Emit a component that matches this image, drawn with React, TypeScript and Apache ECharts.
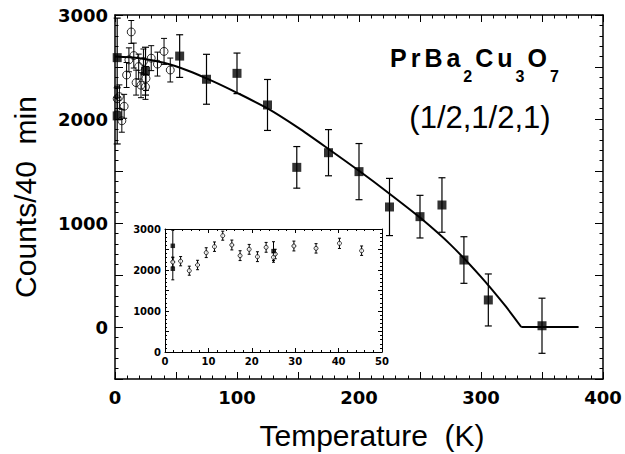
import React, { useEffect, useRef } from 'react';
import * as echarts from 'echarts';

// Filled squares (main data set)
const squareT = [1.8, 1.8, 25, 53, 75, 100, 125, 149, 175, 200, 225, 250, 268, 286, 306, 350];
const squareY = [2590, 2030, 2460, 2605, 2382, 2439, 2135, 1535, 1676, 1494, 1154, 1061, 1173, 644, 260, 12];
const squareErr = [380, 270, 230, 205, 240, 195, 245, 200, 222, 270, 275, 205, 262, 224, 250, 265];

// Open circles (low-temperature data set)
const circleT = [1.8, 3.6, 5.6, 7.5, 9.5, 11.4, 13.3, 15.4, 17.3, 19.4, 21.3, 23.3, 25.0, 25.4, 29.7, 34.8, 40.2, 45.3];
const circleY = [2195, 2215, 1983, 2122, 2423, 2569, 2837, 2610, 2350, 2504, 2325, 2553, 2309, 2390, 2585, 2528, 2650, 2471];
const circleErr = [120, 113, 110, 115, 120, 115, 110, 120, 120, 120, 120, 120, 120, 115, 120, 115, 125, 115];

// Fit curve (ordered part, then the flat part above the transition)
const fitT = [0, 20, 40, 60, 80, 100, 125, 150, 175, 200, 225, 250, 275, 300, 320, 333];
const fitY = [2600, 2584, 2540, 2464, 2364, 2252, 2102, 1917, 1712, 1502, 1282, 1052, 792, 482, 202, 0];
const flatT = [333, 380];
const flatY = [0, 0];

const mainXTicks = [0, 100, 200, 300, 400];
const mainYTicks = [0, 1000, 2000, 3000];
const insetXTicks = [0, 10, 20, 30, 40, 50];
const insetYTicks = [0, 1000, 2000, 3000];

const LABEL_FONT = '"DejaVu Sans", sans-serif';
const TEXT_FONT = '"Liberation Sans", Arial, sans-serif';

function errRender(cap: number, lw: number) {
  return (_params: any, api: any) => {
    const x = api.value(0);
    const lo = api.value(1);
    const hi = api.value(2);
    const p1 = api.coord([x, lo]);
    const p2 = api.coord([x, hi]);
    const style = { stroke: '#000', lineWidth: lw };
    return {
      type: 'group',
      children: [
        { type: 'line', shape: { x1: p1[0], y1: p1[1], x2: p2[0], y2: p2[1] }, style },
        { type: 'line', shape: { x1: p1[0] - cap, y1: p1[1], x2: p1[0] + cap, y2: p1[1] }, style },
        { type: 'line', shape: { x1: p2[0] - cap, y1: p2[1], x2: p2[0] + cap, y2: p2[1] }, style },
      ],
    };
  };
}

function axis(opts: {
  grid: number; pos: string; min: number; max: number; interval: number;
  labels: number[] | null; fontSize: number; tick: number; minor: number; margin: number; lw: number;
}) {
  return {
    type: 'value',
    gridIndex: opts.grid,
    position: opts.pos,
    min: opts.min,
    max: opts.max,
    interval: opts.interval,
    axisLine: { show: true, onZero: false, lineStyle: { color: '#000', width: opts.lw } },
    axisTick: { show: true, inside: true, length: opts.tick, lineStyle: { color: '#000', width: 1 } },
    minorTick: { show: true, splitNumber: 5, length: opts.minor, lineStyle: { color: '#000', width: 1 } },
    splitLine: { show: false },
    minorSplitLine: { show: false },
    axisLabel: opts.labels
      ? {
          show: true,
          margin: opts.margin,
          color: '#000',
          fontFamily: LABEL_FONT,
          fontWeight: 'bold',
          fontSize: opts.fontSize,
          formatter: (v: number) => (opts.labels!.indexOf(v) >= 0 ? String(v) : ''),
        }
      : { show: false },
  };
}

export default function App() {
  const ref = useRef<HTMLDivElement>(null);
  useEffect(() => {
    if (!ref.current) return;
    const chart = echarts.init(ref.current, null, { renderer: 'svg' });

    const sqErrData = squareT.map((t, i) => [t, squareY[i] - squareErr[i], squareY[i] + squareErr[i]]);
    const ciErrData = circleT.map((t, i) => [t, circleY[i] - circleErr[i], circleY[i] + circleErr[i]]);
    const sqData = squareT.map((t, i) => [t, squareY[i]]);
    const ciData = circleT.map((t, i) => [t, circleY[i]]);
    const fitData = fitT.map((t, i) => [t, fitY[i]]);
    const flatData = flatT.map((t, i) => [t, flatY[i]]);
    const insetSqErr = sqErrData.filter((d) => d[0] <= 50);
    const insetSq = sqData.filter((d) => d[0] <= 50);

    const option: any = {
      animation: false,
      backgroundColor: '#fff',
      grid: [
        { left: 115, top: 15, width: 488, height: 364, show: false },
        { left: 165, top: 229, width: 217, height: 123, show: true, backgroundColor: '#fff', borderWidth: 0, z: 5 },
      ],
      xAxis: [
        axis({ grid: 0, pos: 'bottom', min: 0, max: 400, interval: 50, labels: mainXTicks, fontSize: 18, tick: 7, minor: 3.5, margin: 9, lw: 1.5 }),
        axis({ grid: 0, pos: 'top', min: 0, max: 400, interval: 50, labels: null, fontSize: 18, tick: 7, minor: 3.5, margin: 9, lw: 1.5 }),
        { ...axis({ grid: 1, pos: 'bottom', min: 0, max: 50, interval: 10, labels: insetXTicks, fontSize: 10, tick: 4, minor: 2, margin: 4, lw: 1 }), z: 6 },
        { ...axis({ grid: 1, pos: 'top', min: 0, max: 50, interval: 10, labels: null, fontSize: 10, tick: 4, minor: 2, margin: 4, lw: 1 }), z: 6 },
      ],
      yAxis: [
        axis({ grid: 0, pos: 'left', min: -500, max: 3000, interval: 500, labels: mainYTicks, fontSize: 18, tick: 8, minor: 3.5, margin: 7, lw: 1.5 }),
        axis({ grid: 0, pos: 'right', min: -500, max: 3000, interval: 500, labels: null, fontSize: 18, tick: 8, minor: 3.5, margin: 7, lw: 1.5 }),
        { ...axis({ grid: 1, pos: 'left', min: 0, max: 3000, interval: 500, labels: insetYTicks, fontSize: 10, tick: 4, minor: 2, margin: 4, lw: 1 }), z: 6 },
        { ...axis({ grid: 1, pos: 'right', min: 0, max: 3000, interval: 500, labels: null, fontSize: 10, tick: 4, minor: 2, margin: 4, lw: 1 }), z: 6 },
      ],
      series: [
        {
          type: 'line', xAxisIndex: 0, yAxisIndex: 0, data: fitData, showSymbol: false, symbol: 'none',
          smooth: 0.25,
          lineStyle: { color: '#000', width: 2 }, z: 3,
        },
        {
          type: 'line', xAxisIndex: 0, yAxisIndex: 0, data: flatData, showSymbol: false, symbol: 'none',
          lineStyle: { color: '#000', width: 2 }, z: 3,
        },
        {
          type: 'custom', xAxisIndex: 0, yAxisIndex: 0, data: ciErrData, renderItem: errRender(3, 1),
          encode: { x: 0, y: [1, 2] }, z: 2,
        },
        {
          type: 'custom', xAxisIndex: 0, yAxisIndex: 0, data: sqErrData, renderItem: errRender(3.5, 1.2),
          encode: { x: 0, y: [1, 2] }, z: 2,
        },
        {
          type: 'scatter', xAxisIndex: 0, yAxisIndex: 0, data: ciData, symbol: 'circle', symbolSize: 8,
          itemStyle: { color: 'rgba(255,255,255,0)', borderColor: '#000', borderWidth: 1 }, z: 4,
        },
        {
          type: 'scatter', xAxisIndex: 0, yAxisIndex: 0, data: sqData, symbol: 'rect', symbolSize: 9,
          itemStyle: { color: '#000' }, z: 5,
        },
        // inset
        {
          type: 'custom', xAxisIndex: 2, yAxisIndex: 2, data: ciErrData, renderItem: errRender(1.5, 1),
          encode: { x: 0, y: [1, 2] }, z: 7,
        },
        {
          type: 'custom', xAxisIndex: 2, yAxisIndex: 2, data: insetSqErr, renderItem: errRender(1.5, 1),
          encode: { x: 0, y: [1, 2] }, z: 7,
        },
        {
          type: 'scatter', xAxisIndex: 2, yAxisIndex: 2, data: ciData, symbol: 'circle', symbolSize: 4,
          itemStyle: { color: '#fff', borderColor: '#000', borderWidth: 1 }, z: 8,
        },
        {
          type: 'scatter', xAxisIndex: 2, yAxisIndex: 2, data: insetSq, symbol: 'rect', symbolSize: 4.5,
          itemStyle: { color: '#000' }, z: 9,
        },
      ],
      graphic: [
        {
          type: 'text', x: 25, y: 197, rotation: Math.PI / 2,
          style: { text: 'Counts/40  min', font: `30px ${TEXT_FONT}`, fill: '#000', align: 'center', verticalAlign: 'middle' },
        },
        {
          type: 'text', x: 372, y: 435,
          style: { text: 'Temperature  (K)', font: `30px ${TEXT_FONT}`, fill: '#000', align: 'center', verticalAlign: 'middle' },
        },
        {
          type: 'text', x: 388, y: 32,
          style: {
            text: '{m|P}{m|r}{m|B}{m|a}{s|2}{m|C}{m|u}{s|3}{m|O}{s|7}',
            align: 'left', verticalAlign: 'top',
            rich: {
              m: { fontSize: 25, fontWeight: 'bold', fontFamily: TEXT_FONT, fill: '#000', color: '#000', padding: [0, 2, 0, 2] },
              s: { fontSize: 16, fontWeight: 'bold', fontFamily: TEXT_FONT, fill: '#000', color: '#000', padding: [36, 1, 0, 1] },
            },
          },
        },
        {
          type: 'text', x: 480, y: 117,
          style: { text: '(1/2,1/2,1)', font: `31px ${TEXT_FONT}`, fill: '#000', align: 'center', verticalAlign: 'middle' },
        },
      ],
    };

    chart.setOption(option);
    return () => chart.dispose();
  }, []);
  return (
    <div
      ref={ref}
      style={{ position: 'fixed', left: 0, top: 0, width: 625, height: 454, background: '#fff' }}
    />
  );
}
